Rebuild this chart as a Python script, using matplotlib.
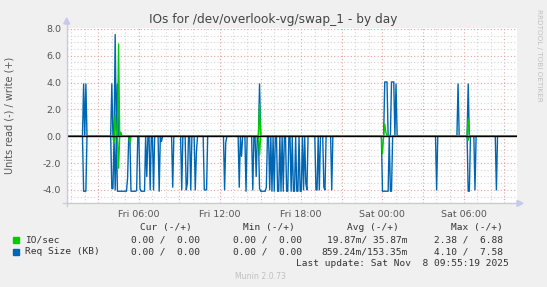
import numpy as np
import matplotlib
matplotlib.use("Agg")
import matplotlib.pyplot as plt
from matplotlib.patches import Rectangle, Polygon
from matplotlib.lines import Line2D

plt.rcParams['axes.unicode_minus'] = False

# ---------------- data (hours since Fri 00:00) ----------------
t_start = 0.68          # Fri 00:41
t_end = 33.93           # Sat 09:56
step_h = 5.0 / 60.0

# Req Size (KB) read (drawn negative)
req_read_start = [1.94, 4.01, 4.11, 4.25, 4.47, 4.80, 5.21, 5.39, 5.88, 6.08, 6.17, 6.57, 6.82, 7.11,
                  7.50, 7.68, 8.49, 9.20, 9.52, 9.62, 9.87, 10.17, 10.26, 10.88, 12.36, 12.46, 13.39,
                  13.57, 13.96, 14.45, 14.65, 14.90, 15.00, 15.44, 15.64, 15.86, 16.03, 16.23, 16.38,
                  16.52, 16.72, 16.89, 17.04, 17.29, 17.41, 17.51, 17.66, 17.75, 17.90, 18.03, 18.15,
                  18.32, 18.44, 19.06, 19.18, 19.38, 19.68, 19.80, 20.27, 23.99, 24.60, 28.00, 30.32,
                  30.81, 32.39]
req_read_end = [2.09, 4.01, 4.11, 4.25, 4.72, 5.09, 5.21, 5.76, 5.88, 6.08, 6.45, 6.57, 6.82, 7.11,
                7.50, 7.68, 8.49, 9.20, 9.52, 9.62, 9.87, 10.17, 10.26, 10.98, 12.36, 12.46, 13.39,
                13.57, 13.96, 14.45, 14.65, 14.90, 15.37, 15.44, 15.64, 15.86, 16.03, 16.23, 16.38,
                16.52, 16.72, 16.89, 17.04, 17.29, 17.41, 17.51, 17.66, 17.75, 17.90, 18.03, 18.15,
                18.32, 18.44, 19.06, 19.18, 19.38, 19.68, 19.80, 20.27, 24.43, 24.70, 28.05, 30.47,
                30.81, 32.39]
req_read_val = [4.10, 3.90, 3.90, 4.00, 4.10, 4.10, 3.10, 4.10, 4.05, 3.90, 4.10, 3.00, 4.00, 4.00,
                4.10, 0.40, 3.80, 4.00, 4.00, 3.50, 4.00, 4.00, 1.20, 4.00, 4.00, 0.50, 3.80,
                1.50, 4.10, 4.00, 3.00, 3.90, 4.10, 3.80, 4.00, 4.10, 4.10, 4.10, 4.10,
                4.10, 4.10, 4.10, 4.10, 4.10, 4.10, 4.10, 4.10, 4.10, 4.10, 4.10, 4.00,
                3.50, 4.00, 4.00, 4.00, 4.00, 3.80, 4.00, 4.00, 4.10, 4.10, 4.00, 4.10,
                4.00, 4.00]

# Req Size (KB) write (drawn positive)
req_write_start = [1.94, 2.09, 4.01, 4.23, 4.40, 14.90, 24.18, 24.68, 25.05, 29.58, 30.32]
req_write_end = [1.94, 2.09, 4.01, 4.23, 4.40, 14.90, 24.36, 24.85, 25.05, 29.58, 30.32]
req_write_val = [3.90, 3.90, 3.90, 7.58, 3.90, 3.90, 4.05, 4.05, 3.90, 3.90, 3.90]

# IO/sec read (negative)
io_read_start = [4.20, 4.52, 5.34, 14.90, 23.99, 30.32]
io_read_end = [4.20, 4.52, 5.34, 14.90, 23.99, 30.32]
io_read_val = [0.50, 2.38, 0.50, 1.40, 1.30, 0.30]

# IO/sec write (positive)
io_write_start = [4.23, 4.52, 4.70, 14.90, 24.18, 24.30, 30.32]
io_write_end = [4.23, 4.52, 4.70, 14.90, 24.18, 24.30, 30.32]
io_write_val = [1.60, 6.88, 0.30, 2.40, 0.90, 0.30, 1.30]

xtick_hours = [6, 12, 18, 24, 30]
xtick_labels = ["Fri 06:00", "Fri 12:00", "Fri 18:00", "Sat 00:00", "Sat 06:00"]

legend_names = ["IO/sec", "Req Size (KB)"]
legend_colors = ["#00cc00", "#0066b3"]
legend_cur = ["0.00 /  0.00", "0.00 /  0.00"]
legend_min = ["0.00 /  0.00", "0.00 /  0.00"]
legend_avg = ["19.87m/ 35.87m", "859.24m/153.35m"]
legend_max = ["2.38 /  6.88", "4.10 /  7.58"]

# ---------------- build series ----------------
n = int(round((t_end - t_start) / step_h)) + 1
t = t_start + np.arange(n) * step_h


def build(starts, ends, vals):
    v = np.zeros(n)
    for s, e, val in zip(starts, ends, vals):
        i0 = int(round((s - t_start) / step_h))
        i1 = int(round((e - t_start) / step_h))
        v[i0:i1 + 1] = val
    return v


req_r = build(req_read_start, req_read_end, req_read_val)
req_w = build(req_write_start, req_write_end, req_write_val)
io_r = build(io_read_start, io_read_end, io_read_val)
io_w = build(io_write_start, io_write_end, io_write_val)

# ---------------- figure ----------------
W, H = 547, 287
fig = plt.figure(figsize=(W / 100, H / 100), dpi=100, facecolor="#f0f0f0")

L, R, T, B = 66.7, 516.7, 28.3, 203.3


def fx(px):
    return px / W


def fy(py):
    return 1 - py / H


ax = fig.add_axes([fx(L), fy(B), fx(R) - fx(L), (B - T) / H])
ax.set_facecolor("white")

ax.plot(t, -req_r, color=legend_colors[1], lw=1.0, zorder=3)
ax.plot(t, req_w, color=legend_colors[1], lw=1.0, zorder=3)
ax.plot(t, -io_r, color=legend_colors[0], lw=1.0, zorder=4)
ax.plot(t, io_w, color=legend_colors[0], lw=1.0, zorder=4)
ax.axhline(0, color="black", lw=1.0, zorder=5)

ax.set_xlim(t_start, t_end)
ax.set_ylim(-5.0, 8.05)

major_x = np.arange(3, 34, 3)
ax.set_xticks(major_x)
ax.set_xticklabels([xtick_labels[xtick_hours.index(h)] if h in xtick_hours else "" for h in major_x])
ax.set_xticks(np.arange(1, 34, 1), minor=True)
ax.set_yticks(np.arange(-4, 9, 2))
ax.set_yticklabels(["%.1f" % v for v in np.arange(-4, 9, 2)])
ax.set_yticks(np.arange(-5, 8.01, 0.5), minor=True)

ax.grid(which="minor", color="#d4d4d4", linestyle=(0, (1, 2)), lw=0.8, zorder=1)
ax.grid(which="major", color="#e8a0a0", linestyle=(0, (1, 2)), lw=0.8, zorder=2)

ax.tick_params(axis="both", which="both", length=0, labelsize=6.8, labelcolor="#555555", pad=4)
ax.tick_params(axis="x", pad=5)
for s in ax.spines.values():
    s.set_visible(False)

# axes lines with arrows
axc = "#c8c8ec"
fig.add_artist(Line2D([fx(L), fx(L)], [fy(B + 3), fy(22)], color=axc, lw=1.0))
fig.add_artist(Line2D([fx(L - 4), fx(518)], [fy(B), fy(B)], color=axc, lw=1.0))
fig.add_artist(Polygon([[fx(L - 3), fy(24)], [fx(L + 3), fy(24)], [fx(L), fy(18)]],
                       closed=True, color=axc, transform=fig.transFigure))
fig.add_artist(Polygon([[fx(517), fy(B - 3)], [fx(517), fy(B + 3)], [fx(523), fy(B)]],
                       closed=True, color=axc, transform=fig.transFigure))

# texts
fig.text(fx(273.5), fy(20), "IOs for /dev/overlook-vg/swap_1 - by day", ha="center", va="center",
         fontsize=8.7, color="#444444")
fig.text(fx(10), fy(115.5), "Units read (-) / write (+)", rotation=90, ha="center", va="center",
         fontsize=7.0, color="#555555")
fig.text(fx(539), fy(55), "RRDTOOL / TOBI OETIKER", rotation=270, ha="center", va="center",
         fontsize=5.2, color="#c0c0c0")

mono = dict(family="DejaVu Sans Mono", fontsize=6.8, color="#333333", va="center")
hy = 227.3
fig.text(fx(191.7), fy(hy), "Cur (-/+)", ha="right", **mono)
fig.text(fx(295), fy(hy), "Min (-/+)", ha="right", **mono)
fig.text(fx(398.3), fy(hy), "Avg (-/+)", ha="right", **mono)
fig.text(fx(502.7), fy(hy), "Max (-/+)", ha="right", **mono)

row_y = [240.0, 252.0]
for i in range(2):
    y = row_y[i]
    fig.add_artist(Rectangle((fx(13), fy(y + 3)), 6 / W, 6 / H, transform=fig.transFigure,
                             color=legend_colors[i]))
    fig.text(fx(25), fy(y), legend_names[i], ha="left", **mono)
    fig.text(fx(200), fy(y), legend_cur[i], ha="right", **mono)
    fig.text(fx(301.7), fy(y), legend_min[i], ha="right", **mono)
    fig.text(fx(407.3), fy(y), legend_avg[i], ha="right", **mono)
    fig.text(fx(502.7), fy(y), legend_max[i], ha="right", **mono)

fig.text(fx(508.3), fy(263.3), "Last update: Sat Nov  8 09:55:19 2025", ha="right", **mono)
fig.text(fx(260.5), fy(276.5), "Munin 2.0.73", ha="center", va="center", fontsize=5.6, color="#c0c0c0")

fig.savefig("out.png", dpi=100, facecolor=fig.get_facecolor())
